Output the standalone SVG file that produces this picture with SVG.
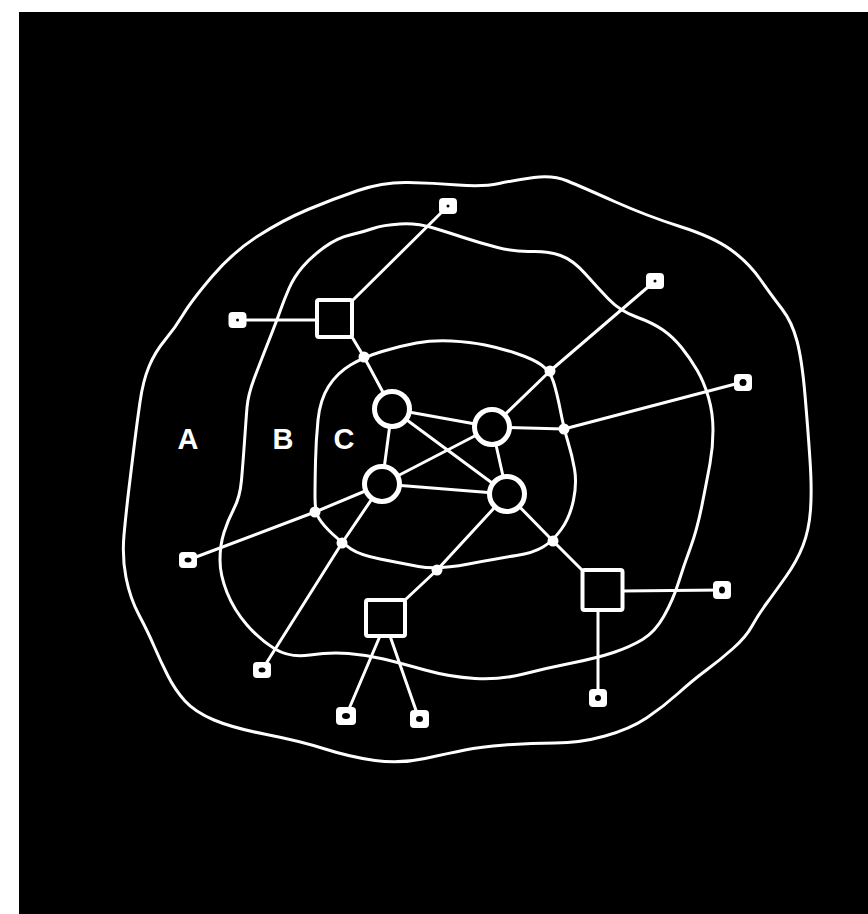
<svg xmlns="http://www.w3.org/2000/svg" width="868" height="914" viewBox="0 0 868 914">
<style>
.zone{fill:none;stroke:#fff;stroke-width:3;stroke-linejoin:round}
.edge{fill:none;stroke:#fff;stroke-width:3;stroke-linejoin:round;stroke-linecap:round}
.router{fill:#000;stroke:#fff;stroke-width:5}
.sw{fill:#000;stroke:#fff;stroke-width:4}
.host{fill:#fff}
.hole{fill:#000}
.dot{fill:#fff}
.lbl{font-family:"Liberation Sans",Arial,sans-serif;font-weight:bold;font-size:29px;fill:#fff;text-anchor:middle}
</style>
<rect x="0" y="0" width="868" height="914" fill="#fff"/>
<rect x="19" y="12" width="849" height="902" fill="#000"/>
<g id="zones">
<path id="zoneA" class="zone" d="M534,177.5 Q553,175 567.5,181 Q582,187 614.5,201.5 Q647,216 680,226.5 Q713,237 730.5,249.5 Q748,262 760,279 Q772,296 782,309 Q792,322 797,341 Q802,360 805,395 Q808,430 810,460 Q812,490 810.5,510 Q809,530 803,545.5 Q797,561 786,576.5 Q775,592 766.5,603.5 Q758,615 752,626 Q746,637 733,648.5 Q720,660 706.5,670 Q693,680 678,693.5 Q663,707 646.5,718 Q630,729 605,736 Q580,743 555,743 Q530,743 505,745 Q480,747 465,750 Q450,753 425,758.5 Q400,764 375,760.5 Q350,757 325,749 Q300,741 266.5,734.5 Q233,728 214,720 Q195,712 185,701 Q175,690 167.5,675 Q160,660 154,646 Q148,632 139,615 Q130,598 126,577.5 Q122,557 124,535 Q126,513 129,488 Q132,463 134.5,443 Q137,423 140,402 Q143,381 149,366.5 Q155,352 165,340 Q175,328 183.5,314 Q192,300 212.5,276 Q233,252 258,236 Q283,220 308,209.5 Q333,199 358,190.5 Q383,182 408,182.5 Q433,183 458,185 Q483,187 499,183.5 Q515,180 534,177.5 Z"/>
<path id="zoneB" class="zone" d="M373,228.5 Q383,225 400,224 Q417,223 433.5,228 Q450,233 465,238 Q480,243 497.5,247.5 Q515,252 531.5,251.5 Q548,251 560.5,255.5 Q573,260 585,273.5 Q597,287 608.5,299 Q620,311 636.5,317 Q653,323 663,330 Q673,337 681.5,347.5 Q690,358 697,370 Q704,382 708.5,397.5 Q713,413 713,430 Q713,447 710,463.5 Q707,480 702,505 Q697,530 690.5,547.5 Q684,565 678.5,582.5 Q673,600 664,616 Q655,632 642.5,639.5 Q630,647 613.5,652.5 Q597,658 572,663 Q547,668 523.5,674 Q500,680 475,678.5 Q450,677 425,670 Q400,663 383.5,659 Q367,655 348.5,653.5 Q330,652 310,655 Q290,658 275,649 Q260,640 247,625 Q234,610 227,592.5 Q220,575 220,560 Q220,545 224,532.5 Q228,520 234,508.5 Q240,497 241.5,480 Q243,463 244.5,441.5 Q246,420 247,407.5 Q248,395 254,379 Q260,363 268.5,341.5 Q277,320 280.5,310 Q284,300 289,288.5 Q294,277 302.5,267 Q311,257 324,247.5 Q337,238 350,235 Q363,232 373,228.5 Z"/>
<path id="zoneC" class="zone" d="M350.5,365 Q364,357 382,351.5 Q400,346 416.5,343 Q433,340 451.5,341 Q470,342 485,345 Q500,348 516.5,353.5 Q533,359 541.5,365 Q550,371 553.5,382 Q557,393 560.5,411 Q564,429 568,442 Q572,455 574.5,469 Q577,483 573.5,500 Q570,517 561.5,529 Q553,541 543,547 Q533,553 516.5,555.5 Q500,558 468.5,564 Q437,570 418.5,566.5 Q400,563 380,559 Q360,555 351,549 Q342,543 332.5,534 Q323,525 319,518.5 Q315,512 315,497.5 Q315,483 315.5,461.5 Q316,440 318,420 Q320,400 328.5,386.5 Q337,373 350.5,365 Z"/>
<text class="lbl" x="188" y="449">A</text>
<text class="lbl" x="283" y="449">B</text>
<text class="lbl" x="344" y="449">C</text>
</g>
<g id="connectors">
<line class="edge" x1="448" y1="206" x2="353" y2="300"/>
<line class="edge" x1="246" y1="320" x2="317" y2="320"/>
<polyline class="edge" points="352,337 364,357 392,409"/>
<line class="edge" x1="392" y1="409" x2="492" y2="427"/>
<line class="edge" x1="392" y1="409" x2="382" y2="484"/>
<line class="edge" x1="392" y1="409" x2="507" y2="494"/>
<line class="edge" x1="492" y1="427" x2="382" y2="484"/>
<line class="edge" x1="492" y1="427" x2="507" y2="494"/>
<line class="edge" x1="382" y1="484" x2="507" y2="494"/>
<polyline class="edge" points="492,427 550,371 655,281"/>
<polyline class="edge" points="492,427 564,429 743,382"/>
<polyline class="edge" points="382,484 315,512 188,560"/>
<polyline class="edge" points="382,484 342,543 262,670"/>
<polyline class="edge" points="507,494 437,570 405,600"/>
<polyline class="edge" points="507,494 553,541 582,570"/>
<line class="edge" x1="380" y1="636" x2="346" y2="716"/>
<line class="edge" x1="390" y1="636" x2="419" y2="719"/>
<line class="edge" x1="598" y1="610" x2="598" y2="698"/>
<line class="edge" x1="622" y1="591" x2="722" y2="590"/>
</g>
<g id="junctions">
<circle id="j1" class="dot" cx="364" cy="357" r="5.5"/>
<circle id="j2" class="dot" cx="550" cy="371" r="5.5"/>
<circle id="j3" class="dot" cx="564" cy="429" r="5.5"/>
<circle id="j4" class="dot" cx="315" cy="512" r="5.5"/>
<circle id="j5" class="dot" cx="342" cy="543" r="5.5"/>
<circle id="j6" class="dot" cx="437" cy="570" r="5.5"/>
<circle id="j7" class="dot" cx="553" cy="541" r="5.5"/>
</g>
<g id="router1"><circle class="router" cx="392" cy="409" r="17.5"/></g>
<g id="router2"><circle class="router" cx="492" cy="427" r="17.5"/></g>
<g id="router3"><circle class="router" cx="382" cy="484" r="17.5"/></g>
<g id="router4"><circle class="router" cx="507" cy="494" r="17.5"/></g>
<g id="switch1"><rect class="sw" x="317" y="300" width="35" height="37" rx="2"/></g>
<g id="switch2"><rect class="sw" x="366" y="600" width="39" height="36" rx="2"/></g>
<g id="switch3"><rect class="sw" x="582.5" y="570" width="40" height="40" rx="2"/></g>
<g id="host1"><rect class="host" x="439" y="198" width="18" height="16" rx="4"/><circle class="hole" cx="448" cy="206" r="1.5"/></g>
<g id="host2"><rect class="host" x="228.5" y="312" width="18" height="16" rx="4"/><circle class="hole" cx="237.5" cy="320" r="1.5"/></g>
<g id="host3"><rect class="host" x="646" y="273" width="18" height="16" rx="4"/><circle class="hole" cx="655" cy="281" r="1.5"/></g>
<g id="host4"><rect class="host" x="734" y="374" width="18" height="17" rx="4"/><ellipse class="hole" cx="743" cy="382.5" rx="3.5" ry="3.5"/></g>
<g id="host5"><rect class="host" x="179" y="552" width="18" height="16" rx="4"/><ellipse class="hole" cx="188" cy="560" rx="3.5" ry="2.5"/></g>
<g id="host6"><rect class="host" x="253" y="662" width="18" height="16" rx="4"/><ellipse class="hole" cx="262" cy="670" rx="3.5" ry="2.5"/></g>
<g id="host7"><rect class="host" x="336" y="707" width="20" height="18" rx="4"/><ellipse class="hole" cx="346" cy="716" rx="4" ry="3"/></g>
<g id="host8"><rect class="host" x="410" y="710" width="19" height="18" rx="4"/><ellipse class="hole" cx="419.5" cy="719" rx="3.5" ry="3"/></g>
<g id="host9"><rect class="host" x="589" y="689" width="18" height="18" rx="4"/><ellipse class="hole" cx="598" cy="698" rx="3" ry="3"/></g>
<g id="host10"><rect class="host" x="713" y="581" width="18" height="18" rx="4"/><ellipse class="hole" cx="722" cy="590" rx="3" ry="3.5"/></g>
</svg>
